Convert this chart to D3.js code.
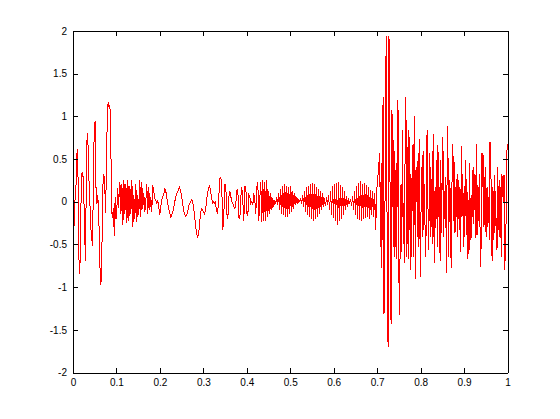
<!doctype html>
<html lang="en">
<head>
<meta charset="utf-8">
<title>signal</title>
<style>
  body { margin: 0; background: #fff; }
  svg { display: block; }
  .tick text { font-family: "Liberation Sans", Helvetica, Arial, sans-serif; font-size: 10px; fill: #000; }
</style>
<script src="https://cdn.jsdelivr.net/npm/d3@7"></script>
</head>
<body>
<div id="chart"></div>
<script>
// tick values
var xTicks = [0, 0.1, 0.2, 0.3, 0.4, 0.5, 0.6, 0.7, 0.8, 0.9, 1];
var yTicks = [-2, -1.5, -1, -0.5, 0, 0.5, 1, 1.5, 2];

// signal, piece by piece (time span of each piece below)
var segA = [-0.42, -0.22, 0.08, 0.20, 0.57, 0.62, -0.57, -0.85, -0.62, 0.22, 0.35, 0.30, 0.05, -0.42, -0.69,
  0.59, 0.80, 0.63, 0.22, -0.03, -0.30, -0.42, -0.52, 0.28, 0.90, 0.94, 0.16, -0.03, 0.08, -0.13, -0.48,
  -0.98, -0.92, -0.42, 0.20, 0.32, 0.20, -0.13, 0.40, 1.05, 1.17, 1.11, 1.13, 0.70, -0.11, -0.19, -0.07,
  -0.40, 0.05, -0.20, -0.07, 0.16, -0.07, 0.20];
var segB = [0.23, -0.14, 0.21, -0.27, 0.26, -0.14, 0.21, -0.25, 0.25, -0.22, 0.19, -0.14, 0.26, -0.29, 0.08,
  -0.20, 0.21, -0.24, 0.08, -0.16, 0.26, -0.18, 0.23, -0.08, 0.10, -0.12, 0.00, 0.21, -0.14, 0.17, -0.10,
  0.06, -0.12, 0.19, 0.13, 0.04, 0.02, -0.02, 0.02, -0.06, -0.16, -0.06, 0.02, 0.06, 0.08, 0.15, 0.13,
  0.06, -0.02, -0.08, -0.12, -0.18, -0.16, -0.12, -0.08, 0.00, 0.04, 0.10, 0.11, 0.15, 0.17, 0.13, 0.06,
  -0.02, -0.10, -0.14, -0.17, -0.16, -0.12, -0.06, -0.02, 0.00, 0.02, 0.01, -0.06, -0.16, -0.27, -0.37,
  -0.41, -0.39, -0.27, -0.14, -0.08, -0.10, -0.12, -0.14, -0.10, 0.00, 0.10, 0.15, 0.19, 0.13, 0.06,
  -0.02, 0.00, -0.02, 0.00, -0.10, -0.14, -0.02, 0.19];
var segC = [0.27, 0.29, 0.13, -0.33, -0.14, 0.21, 0.17, -0.14, -0.20, 0.06, 0.13, 0.06, 0.00, -0.02, -0.06,
  -0.08, -0.02, 0.13, 0.14, -0.18, -0.20, 0.06, 0.17, 0.00, -0.22, 0.18, 0.18, -0.14, -0.16, 0.08, 0.06,
  -0.02, 0.00, -0.04, 0.10, 0.02, -0.14, 0.17, 0.23, -0.22, 0.04, 0.23, -0.24, 0.25, -0.22, 0.23, -0.22,
  0.25, -0.18, 0.13, -0.14, 0.10, -0.10, 0.04, -0.06, 0.02, -0.02, 0.06, -0.04, 0.10, -0.10, 0.15, -0.14,
  0.19, -0.16, 0.21, -0.18, 0.19, -0.18, 0.17, -0.14, 0.19, -0.12, 0.13, -0.08, 0.10, -0.04, 0.06, -0.02,
  0.02, 0.00, 0.03, -0.02, 0.08, -0.06, 0.13, -0.12, 0.17, -0.16, 0.19, -0.18, 0.21, -0.20, 0.22, -0.22,
  0.21, -0.20, 0.17, -0.18, 0.15, -0.14, 0.12, -0.10, 0.10, -0.06];
var segD = [0.04, -0.05, 0.06, -0.04, 0.08, -0.10, 0.13, -0.16, 0.18, -0.19, 0.21, -0.22, 0.22, -0.27, 0.23,
  -0.22, 0.20, -0.20, 0.17, -0.15, 0.12, -0.10, 0.07, -0.06, 0.04, -0.03, 0.03, -0.05, 0.07, -0.10, 0.13,
  -0.15, 0.18, -0.20, 0.22, -0.21, 0.24, -0.22, 0.21, -0.20, 0.22, -0.19, 0.20, -0.18, 0.17, -0.20, 0.14,
  -0.15, 0.12, -0.18, 0.10, -0.33, 0.13];
var segE = [0.57, -0.53, 0.45, -0.78, 1.00, 1.23, -1.31, -0.45, 0.64, 1.94, 0.29, -1.55, -1.70, 1.94, 1.29,
  -1.08, -1.43, 1.07, 0.91, -0.53, 0.72, -0.65, -0.41, 0.45, -0.67, 1.19, 1.03, -0.88, -1.33, -0.14, 0.21,
  -0.59, 0.84, -0.49, -0.02, -0.72, 1.23, 0.96, -0.65, -0.26, 0.84, -0.67, 0.76, -0.80, 0.33, -0.65, 0.53,
  0.68, -0.65, 1.00, -0.90, 0.37, 0.41, -0.41, 0.57, -0.53, 0.74, -0.88, -0.20, 0.41, -0.41, 0.60, -0.33,
  0.21, -0.41, -0.65, 0.70, 0.84, -0.08, -0.57, 0.57, -0.41, 0.41, -0.30, 0.60, -0.49, 0.79, -0.72, 0.17,
  -0.31, 0.49, -0.53, 0.66, -0.18, 0.17, -0.69, 0.49, -0.37, 0.33, 0.76, -0.41];
var segF = [0.12, -0.31, 0.29, -0.84, 0.89, 0.55, -0.65, 0.25, 0.15, -0.61, -0.78, 0.57, 0.68, -0.22, 0.47,
  -0.37, 0.17, -0.18, 0.33, -0.41, 0.25, -0.33, 0.17, -0.59, 0.65, -0.18, 0.33, -0.53, 0.19, -0.41, 0.49,
  -0.39, 0.27, -0.67, 0.02, -0.61, 0.45, -0.45, 0.08, -0.43, 0.37, -0.26, 0.41, -0.10, 0.31, -0.43, 0.68,
  -0.39, 0.17, -0.22, 0.33, -0.51, -0.77, 0.57, 0.17, 0.57, -0.30, 0.29, -0.35, 0.41, -0.41, 0.17, -0.30,
  0.06, -0.45, 0.70, 0.66, -0.22, -0.69, 0.17, -0.45, 0.31, -0.37, 0.12, -0.41, -0.57, 0.41, -0.33, 0.25,
  -0.41, 0.17, -0.65, 0.33, 0.17, -0.02, 0.31, -0.80, -0.57, -0.22, 0.57, 0.68];
var segments = [segA, segB, segC, segD, segE, segF];
var segSpans = [[0.001, 0.107], [0.108, 0.337], [0.338, 0.577], [0.579, 0.699], [0.706, 0.853], [0.855, 1]];

var width = 560, height = 419;
var margin = {top: 31, right: 52.5, bottom: 46.5, left: 73};
var w = width - margin.left - margin.right,
    h = height - margin.top - margin.bottom;

var svg = d3.select('#chart').append('svg')
  .attr('width', width)
  .attr('height', height);

var g = svg.append('g')
  .attr('transform', 'translate(' + margin.left + ',' + margin.top + ')');

var x = d3.scaleLinear().domain([0, 1]).range([0, w]);
var y = d3.scaleLinear().domain([-2, 2]).range([h, 0]);

// sample times spread evenly over each piece's span
var points = [];
segments.forEach(function(seg, k) {
  var t0 = segSpans[k][0], t1 = segSpans[k][1];
  seg.forEach(function(v, i) {
    points.push([t0 + (t1 - t0) * i / (seg.length - 1), v]);
  });
});

var line = d3.line()
  .x(function(d) { return x(d[0]); })
  .y(function(d) { return y(d[1]); });

g.append('path')
  .datum(points)
  .attr('d', line)
  .attr('fill', 'none')
  .attr('stroke', '#ff0000')
  .attr('stroke-width', 1)
  .attr('shape-rendering', 'crispEdges');

// axes, matlab style: ticks inside on every side
function fmt(d) { return String(d); }

g.append('g')
  .attr('class', 'axis')
  .attr('transform', 'translate(0,' + h + ')')
  .call(d3.axisBottom(x).tickValues(xTicks).tickFormat(fmt).tickSizeInner(-5).tickSizeOuter(0).tickPadding(6));

g.append('g')
  .attr('class', 'axis')
  .call(d3.axisTop(x).tickValues(xTicks).tickFormat('').tickSizeInner(-5).tickSizeOuter(0));

g.append('g')
  .attr('class', 'axis')
  .call(d3.axisLeft(y).tickValues(yTicks).tickFormat(fmt).tickSizeInner(-5).tickSizeOuter(0).tickPadding(6));

g.append('g')
  .attr('class', 'axis')
  .attr('transform', 'translate(' + w + ',0)')
  .call(d3.axisRight(y).tickValues(yTicks).tickFormat('').tickSizeInner(-5).tickSizeOuter(0));

g.selectAll('.axis path, .axis line')
  .attr('stroke', '#000')
  .attr('shape-rendering', 'crispEdges');
</script>
</body>
</html>
